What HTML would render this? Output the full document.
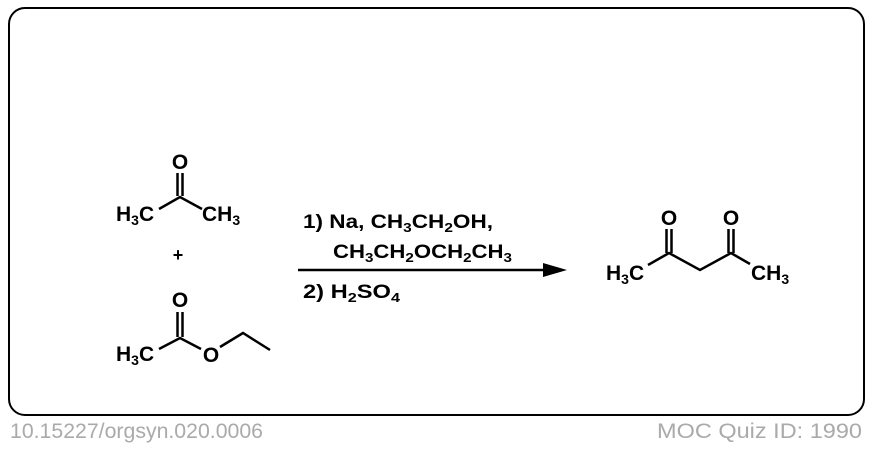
<!DOCTYPE html>
<html><head><style>
body{margin:0;background:#fff;width:872px;height:446px;overflow:hidden}
svg text{font-family:"Liberation Sans",Arial,sans-serif}
</style></head><body>
<svg width="872" height="446" viewBox="0 0 872 446" xmlns="http://www.w3.org/2000/svg">
<rect x="9" y="8" width="855" height="407" rx="16" fill="#fff" stroke="#000" stroke-width="2"/>
<g font-weight="bold" font-size="21" fill="#000">
<text x="180" y="169" text-anchor="middle">O</text>
<text x="116" y="221">H<tspan font-size="14" dy="4">3</tspan><tspan dy="-4">C</tspan></text>
<text x="202" y="221">CH<tspan font-size="14" dy="4">3</tspan></text>
<text x="178" y="261" text-anchor="middle" font-size="18">+</text>
<text x="180" y="307" text-anchor="middle">O</text>
<text x="116" y="361">H<tspan font-size="14" dy="4">3</tspan><tspan dy="-4">C</tspan></text>
<text x="211" y="362" text-anchor="middle">O</text>
<text x="669" y="225" text-anchor="middle">O</text>
<text x="731" y="225" text-anchor="middle">O</text>
<text x="606" y="280">H<tspan font-size="14" dy="4">3</tspan><tspan dy="-4">C</tspan></text>
<text x="751" y="280">CH<tspan font-size="14" dy="4">3</tspan></text>
<text x="303" y="228" font-size="19" textLength="190" lengthAdjust="spacingAndGlyphs">1)  Na, CH<tspan font-size="13" dy="4">3</tspan><tspan dy="-4">CH</tspan><tspan font-size="13" dy="4">2</tspan><tspan dy="-4">OH,</tspan></text>
<text x="333" y="258" font-size="19" textLength="179" lengthAdjust="spacingAndGlyphs">CH<tspan font-size="13" dy="4">3</tspan><tspan dy="-4">CH</tspan><tspan font-size="13" dy="4">2</tspan><tspan dy="-4">OCH</tspan><tspan font-size="13" dy="4">2</tspan><tspan dy="-4">CH</tspan><tspan font-size="13" dy="4">3</tspan></text>
<text x="303" y="298" font-size="19" textLength="97" lengthAdjust="spacingAndGlyphs">2)  H<tspan font-size="13" dy="4">2</tspan><tspan dy="-4">SO</tspan><tspan font-size="13" dy="4">4</tspan></text>
</g>
<g stroke="#000" stroke-width="2.5" fill="none">
<line x1="177.5" y1="173" x2="177.5" y2="196"/><line x1="182.5" y1="173" x2="182.5" y2="196"/>
<polyline points="159,209 180,197 202,209"/>
<line x1="177.5" y1="312" x2="177.5" y2="337"/><line x1="182.5" y1="312" x2="182.5" y2="337"/>
<polyline points="159,349 180,338 201,349"/>
<polyline points="220,347 243,333 270,350"/>
<line x1="666.5" y1="229" x2="666.5" y2="253"/><line x1="671.5" y1="229" x2="671.5" y2="253"/>
<line x1="728.5" y1="229" x2="728.5" y2="253"/><line x1="733.5" y1="229" x2="733.5" y2="253"/>
<polyline points="648,265 669,253 700,270 731,253 750,264"/>
<line x1="298" y1="270" x2="550" y2="270"/>
</g>
<polygon points="543,263 567,270 543,277" fill="#000"/>
<text x="10" y="438" font-size="21" fill="#aaa" textLength="253" lengthAdjust="spacingAndGlyphs">10.15227/orgsyn.020.0006</text>
<text x="657" y="438" font-size="21" fill="#aaa" textLength="205" lengthAdjust="spacingAndGlyphs">MOC Quiz ID: 1990</text>
</svg>
</body></html>
